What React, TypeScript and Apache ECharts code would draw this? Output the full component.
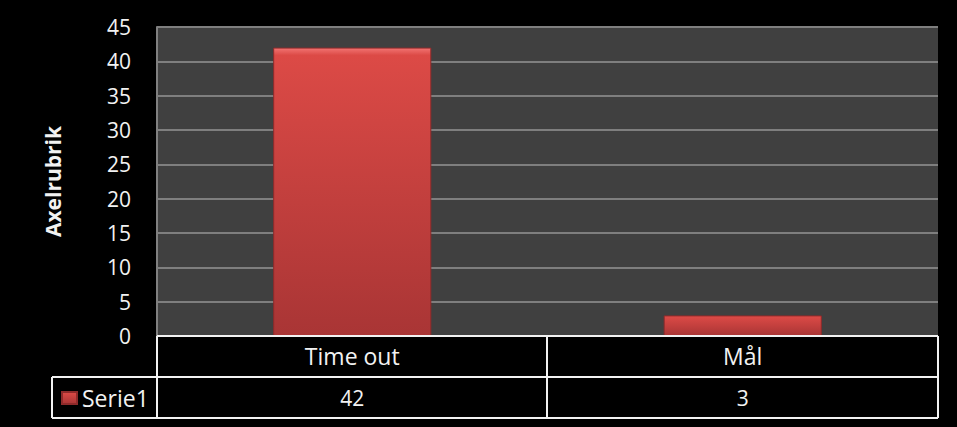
import React, { useEffect, useRef } from "react";
import * as echarts from "echarts";

const categories = ["Time out", "Mål"];
const seriesName = "Serie1";
const values = [42, 3];
const yTicks = { min: 0, max: 45, interval: 5 };
const axisTitle = "Axelrubrik";

const FONT = "'Open Sans', 'DejaVu Sans', sans-serif";

export default function App() {
  const ref = useRef<HTMLDivElement>(null);
  useEffect(() => {
    document.body.style.margin = "0";
    document.body.style.background = "#000";
    const chart = echarts.init(ref.current!, null, { renderer: "svg" });
    const white = "#f2f2f2";
    const lineStyle = { stroke: white, lineWidth: 2 };
    const L = 157, R = 938, C = 547, T0 = 336, T1 = 377, T2 = 418, LL = 52;
    const hLine = (y: number, x1: number, x2: number) => ({
      type: "line", shape: { x1, y1: y, x2, y2: y }, style: lineStyle, z: 10,
    });
    const vLine = (x: number, y1: number, y2: number) => ({
      type: "line", shape: { x1: x, y1, x2: x, y2 }, style: lineStyle, z: 10,
    });
    const barColor = new echarts.graphic.LinearGradient(0, 0, 0, 1, [
      { offset: 0, color: "#f27472" },
      { offset: 0.025, color: "#dc4a46" },
      { offset: 1, color: "#a93535" },
    ]);
    chart.setOption({
      animation: false,
      backgroundColor: "#000",
      textStyle: { fontFamily: FONT },
      grid: {
        left: L, top: 27, right: 957 - R, bottom: 427 - T0,
        show: true, backgroundColor: "#404040", borderWidth: 0,
      },
      legend: {
        data: [seriesName],
        left: 61, top: 386, padding: 0,
        itemWidth: 15, itemHeight: 12, itemGap: 6,
        icon: "rect",
        textStyle: { color: white, fontSize: 23, fontFamily: FONT, lineHeight: 24 },
      },
      xAxis: [
        {
          type: "category", data: categories, position: "bottom",
          axisLine: { show: false }, axisTick: { show: false },
          axisLabel: { color: white, fontSize: 23, fontFamily: FONT, margin: 20, verticalAlign: "middle" },
          splitLine: { show: false },
        },
        {
          type: "category", data: values.map(String), position: "bottom", offset: T1 - T0,
          axisLine: { show: false }, axisTick: { show: false },
          axisLabel: { color: white, fontSize: 21, fontFamily: FONT, margin: 21, verticalAlign: "middle" },
        },
      ],
      yAxis: {
        type: "value", min: yTicks.min, max: yTicks.max, interval: yTicks.interval,
        name: axisTitle, nameLocation: "middle", nameGap: 94,
        nameTextStyle: { color: white, fontSize: 21, fontWeight: "bold", fontFamily: FONT },
        axisLine: { show: true, lineStyle: { color: "#808080", width: 2 } },
        axisTick: { show: false },
        axisLabel: { color: white, fontSize: 21, fontFamily: FONT, margin: 26 },
        splitLine: { lineStyle: { color: "#7f7f7f", width: 2 } },
      },
      series: [
        {
          name: seriesName, type: "bar", data: values, xAxisIndex: 0,
          barWidth: "40.5%",
          itemStyle: { color: barColor, borderColor: "#8e2a2a", borderWidth: 1 },
        },
      ],
      graphic: [
        hLine(T0, L, R),
        hLine(T1, LL, R),
        hLine(T2, LL, R),
        vLine(LL, T1, T2),
        vLine(L, T0, T2),
        vLine(C, T0, T2),
        vLine(R, T0, T2),
      ],
    });
    return () => chart.dispose();
  }, []);
  return <div ref={ref} style={{ width: 957, height: 427, background: "#000" }} />;
}
